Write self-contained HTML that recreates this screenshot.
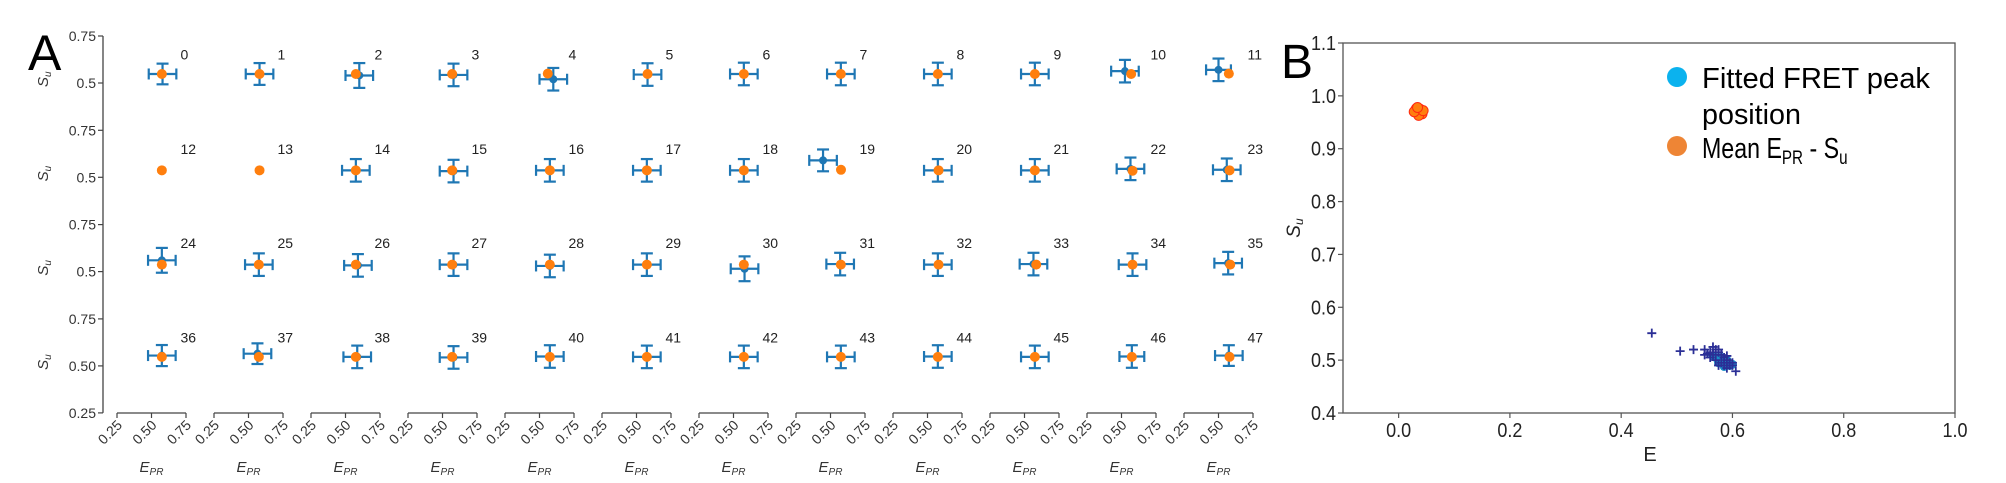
<!DOCTYPE html>
<html><head><meta charset="utf-8"><style>
html,body{margin:0;padding:0;background:#fff;}
svg{display:block;font-family:"Liberation Sans",sans-serif;}
</style></head><body>
<svg id="fig" width="2006" height="483" viewBox="0 0 2006 483" xmlns="http://www.w3.org/2000/svg">
<text x="28" y="70" font-size="50" fill="#000">A</text>
<text x="1281" y="78" font-size="48" fill="#000">B</text>
<g id="pa"></g>
<g id="pb"></g>
</svg>
<script>
// ---- Panel A data (48 cells) ----
const cellIds = Array.from({length:48},(_,i)=>i);
const meanE = [0.575,0.58,0.575,0.57,0.56,0.58,0.575,0.575,0.575,0.575,0.57,0.575,
 0.575,0.58,0.575,0.57,0.575,0.575,0.575,0.576,0.58,0.575,0.58,0.58,
 0.575,0.575,0.575,0.57,0.575,0.575,0.575,0.575,0.58,0.585,0.58,0.585,
 0.575,0.575,0.575,0.57,0.575,0.575,0.575,0.575,0.575,0.575,0.575,0.58];
const meanS = [0.548,0.548,0.548,0.548,0.55,0.548,0.548,0.548,0.548,0.548,0.548,0.55,
 0.537,0.537,0.537,0.537,0.537,0.537,0.537,0.54,0.537,0.537,0.535,0.537,
 0.537,0.537,0.537,0.537,0.537,0.537,0.537,0.537,0.537,0.537,0.537,0.537,
 0.548,0.548,0.548,0.548,0.548,0.548,0.548,0.548,0.548,0.548,0.548,0.548];
const fitE = [0.58,0.58,0.6,0.58,0.6,0.58,0.575,0.575,0.575,0.575,0.525,0.50,
 null,null,0.575,0.58,0.575,0.575,0.575,0.446,0.575,0.575,0.565,0.56,
 0.575,0.575,0.59,0.58,0.575,0.575,0.58,0.57,0.575,0.565,0.58,0.57,
 0.575,0.565,0.585,0.58,0.575,0.575,0.575,0.575,0.575,0.575,0.575,0.575];
const fitS = [0.548,0.548,0.54,0.543,0.52,0.545,0.548,0.548,0.548,0.548,0.563,0.57,
 null,null,0.537,0.533,0.537,0.537,0.537,0.59,0.537,0.537,0.545,0.54,
 0.56,0.537,0.533,0.537,0.53,0.537,0.515,0.54,0.537,0.54,0.537,0.545,
 0.555,0.565,0.548,0.545,0.55,0.548,0.548,0.548,0.55,0.548,0.55,0.555];
const errE = [0.1,0.1,0.1,0.1,0.1,0.1,0.1,0.1,0.1,0.1,0.1,0.09,
 0,0,0.1,0.1,0.1,0.1,0.1,0.1,0.1,0.1,0.1,0.1,
 0.1,0.1,0.1,0.1,0.1,0.1,0.1,0.1,0.1,0.1,0.1,0.1,
 0.1,0.1,0.1,0.1,0.1,0.1,0.1,0.1,0.1,0.1,0.09,0.1];
const errS = [0.055,0.058,0.066,0.06,0.06,0.06,0.06,0.06,0.06,0.06,0.06,0.06,
 0,0,0.06,0.06,0.06,0.06,0.06,0.058,0.06,0.06,0.06,0.06,
 0.066,0.06,0.06,0.06,0.06,0.06,0.066,0.06,0.06,0.06,0.06,0.06,
 0.056,0.055,0.06,0.06,0.06,0.06,0.06,0.06,0.06,0.06,0.06,0.055];
const xTickVals = [0.25,0.50,0.75];
const xTickLabels = ["0.25","0.50","0.75"];
// ---- Panel B data ----
const plusE = [0.455,0.506,0.53,0.55,0.555,0.56,0.565,0.57,0.575,0.58,0.585,0.59,0.595,0.6,0.606,0.575,0.58,0.59,0.595,0.57,0.565,0.585,0.6,0.56,0.55,0.575,0.59];
const plusS = [0.551,0.517,0.52,0.52,0.512,0.505,0.525,0.52,0.515,0.51,0.505,0.5,0.495,0.495,0.479,0.49,0.495,0.485,0.49,0.5,0.51,0.49,0.49,0.515,0.51,0.52,0.508];
const fitDotE = [0.57,0.575,0.58,0.585,0.59,0.595,0.58,0.575,0.59,0.585,0.565,0.6];
const fitDotS = [0.505,0.5,0.498,0.495,0.493,0.49,0.505,0.495,0.5,0.488,0.508,0.492];
const meanDotE = [0.03,0.035,0.04,0.038,0.032,0.042,0.036,0.028,0.044,0.034];
const meanDotS = [0.972,0.968,0.971,0.975,0.976,0.966,0.963,0.97,0.972,0.978];
const bXTicks = [0.0,0.2,0.4,0.6,0.8,1.0];
const bXLabels = ["0.0","0.2","0.4","0.6","0.8","1.0"];
const bYTicks = [0.4,0.5,0.6,0.7,0.8,0.9,1.0,1.1];
const bYLabels = ["0.4","0.5","0.6","0.7","0.8","0.9","1.0","1.1"];

const NS="http://www.w3.org/2000/svg";
function mk(tag, attrs, parent){const e=document.createElementNS(NS,tag);for(const k in attrs)e.setAttribute(k,attrs[k]);parent.appendChild(e);return e;}
const pa=document.getElementById('pa');
const axisCol="#444";
const blue="#1f77b4", orange="#ff7f0e";
const colX0=117, colStep=97, pxPerE=138;
const rowTop0=36, rowStep=94.3, pxPerS=188;
function ax(c,e){return colX0+colStep*c+(e-0.25)*pxPerE;}
function ay(r,s){return rowTop0+rowStep*r+(0.75-s)*pxPerS;}

let l=mk('line',{x1:103,y1:ay(0,0.75),x2:103,y2:ay(3,0.25),stroke:axisCol,'stroke-width':1.3},pa);


for(let r=0;r<4;r++){
  const ticks = r<3 ? [[0.75,"0.75"],[0.5,"0.5"]] : [[0.75,"0.75"],[0.5,"0.50"],[0.25,"0.25"]];
  ticks.forEach(t=>{
    const y=ay(r,t[0]);
    const tk=mk('line',{x1:98,y1:y,x2:103,y2:y,stroke:axisCol,'stroke-width':1.2},pa);
    
    
    const tx=mk('text',{x:96,y:y+5,'font-size':14,'text-anchor':'end',fill:'#333'},pa);
    tx.textContent=t[1];
    
    
  });
  const yl=mk('text',{x:0,y:0,'font-size':15,'font-style':'italic','text-anchor':'middle',fill:'#333',transform:`translate(48,${ay(r,0.52)}) rotate(-90)`},pa);
  yl.innerHTML='S<tspan font-size="10" dy="3">u</tspan>';
  
  
}
for(let c=0;c<12;c++){
  const sp=mk('line',{x1:ax(c,0.25),y1:413,x2:ax(c,0.75),y2:413,stroke:axisCol,'stroke-width':1.3},pa);
  
  
  xTickVals.forEach((v,i)=>{
    const x=ax(c,v);
    const tk=mk('line',{x1:x,y1:413,x2:x,y2:418,stroke:axisCol,'stroke-width':1.2},pa);
    
    
    const tx=mk('text',{x:0,y:0,'font-size':14,'text-anchor':'end',fill:'#333',transform:`translate(${x+6},${426}) rotate(-45)`},pa);
    tx.textContent=xTickLabels[i];
    
    
  });
  const xl=mk('text',{x:ax(c,0.5),y:472,'font-size':15,'font-style':'italic','text-anchor':'middle',fill:'#333'},pa);
  xl.innerHTML='E<tspan font-size="10" dy="3">PR</tspan>';
  
  
}
cellIds.forEach(i=>{
  const r=Math.floor(i/12), c=i%12;
  const g=mk('g',{},pa);
  
  
  if(fitE[i]!==null){
    const bx=ax(c,fitE[i]), by=ay(r,fitS[i]);
    const x1=ax(c,fitE[i]-errE[i]), x2=ax(c,fitE[i]+errE[i]);
    const y1=ay(r,fitS[i]+errS[i]), y2=ay(r,fitS[i]-errS[i]);
    const st={stroke:blue,'stroke-width':2.2};
    [[x1,by,x2,by],[bx,y1,bx,y2],[x1,by-5.5,x1,by+5.5],[x2,by-5.5,x2,by+5.5],[bx-6,y1,bx+6,y1],[bx-6,y2,bx+6,y2]].forEach(a=>{
      const e=mk('line',Object.assign({x1:a[0],y1:a[1],x2:a[2],y2:a[3]},st),g);
      
      
    });
    const d=mk('circle',{cx:bx,cy:by,r:4,fill:blue},g);
    
    
  }
  const o=mk('circle',{cx:ax(c,meanE[i]),cy:ay(r,meanS[i]),r:5,fill:orange},g);
  
  
  const lb=mk('text',{x:ax(c,0.71),y:ay(r,0.625),'font-size':14,fill:'#222'},g);
  lb.textContent=String(i);
  
  
});

// ---- Panel B ----
const pb=document.getElementById('pb');
const bx0=1343,bx1=1955,by0=43,by1=413;
function bxs(e){return bx0+(e+0.1)/1.1*(bx1-bx0);}
function bys(s){return by1-(s-0.4)/0.7*(by1-by0);}
const fr=mk('rect',{x:bx0,y:by0,width:bx1-bx0,height:by1-by0,fill:'none',stroke:'#555','stroke-width':1.3},pb);


bXTicks.forEach((v,i)=>{
  const x=bxs(v);
  const t=mk('line',{x1:x,y1:by1,x2:x,y2:by1+5,stroke:'#555','stroke-width':1.2},pb);
  
  
  const tx=mk('text',{x:x,y:437,'font-size':20,'text-anchor':'middle',fill:'#222',textLength:25,lengthAdjust:'spacingAndGlyphs'},pb);
  tx.textContent=bXLabels[i];
  
  
});
bYTicks.forEach((v,i)=>{
  const y=bys(v);
  const t=mk('line',{x1:bx0-5,y1:y,x2:bx0,y2:y,stroke:'#555','stroke-width':1.2},pb);
  
  
  const tx=mk('text',{x:bx0-7,y:y+7,'font-size':20,'text-anchor':'end',fill:'#222',textLength:25,lengthAdjust:'spacingAndGlyphs'},pb);
  tx.textContent=bYLabels[i];
  
  
});
let t1=mk('text',{x:1650,y:461,'font-size':20,'text-anchor':'middle',fill:'#222'},pb);
t1.textContent='E';


let t2=mk('text',{x:0,y:0,'font-size':19,'font-style':'italic','text-anchor':'middle',fill:'#222',transform:'translate(1300,228) rotate(-90)'},pb);
t2.innerHTML='S<tspan font-size="12" dy="3">u</tspan>';


meanDotE.forEach((e,i)=>{
  const c=mk('circle',{cx:bxs(e),cy:bys(meanDotS[i]),r:5,fill:'#ff7f0e',stroke:'#ff2a10','stroke-width':1},pb);
  
  
});
fitDotE.forEach((e,i)=>{
  const c=mk('circle',{cx:bxs(e),cy:bys(fitDotS[i]),r:4.5,fill:'#1a8fc8'},pb);
  
  
});
plusE.forEach((e,i)=>{
  const x=bxs(e),y=bys(plusS[i]);
  const p=mk('path',{d:`M${x-4.5},${y}H${x+4.5}M${x},${y-4.5}V${y+4.5}`,stroke:'#2b2f96','stroke-width':1.8,fill:'none'},pb);
  
  
});
const lg=mk('g',{},pb);


let c1=mk('ellipse',{cx:1677,cy:77,rx:10,ry:10,fill:'#0bb2ee'},lg);


let c2=mk('ellipse',{cx:1677,cy:146,rx:10,ry:10,fill:'#ee8535'},lg);


let l1=mk('text',{x:1702,y:88,'font-size':29,fill:'#000',textLength:228,lengthAdjust:'spacingAndGlyphs'},lg);
l1.textContent='Fitted FRET peak';


let l2=mk('text',{x:1702,y:124,'font-size':29,fill:'#000',textLength:99,lengthAdjust:'spacingAndGlyphs'},lg);
l2.textContent='position';


let l3=mk('text',{x:1702,y:158,'font-size':29,fill:'#000',transform:'translate(1702,0) scale(0.8,1) translate(-1702,0)'},lg);
l3.innerHTML='Mean E<tspan font-size="19" dy="6">PR</tspan><tspan dy="-6"> - S</tspan><tspan font-size="19" dy="6">u</tspan>';


</script>
</body></html>
